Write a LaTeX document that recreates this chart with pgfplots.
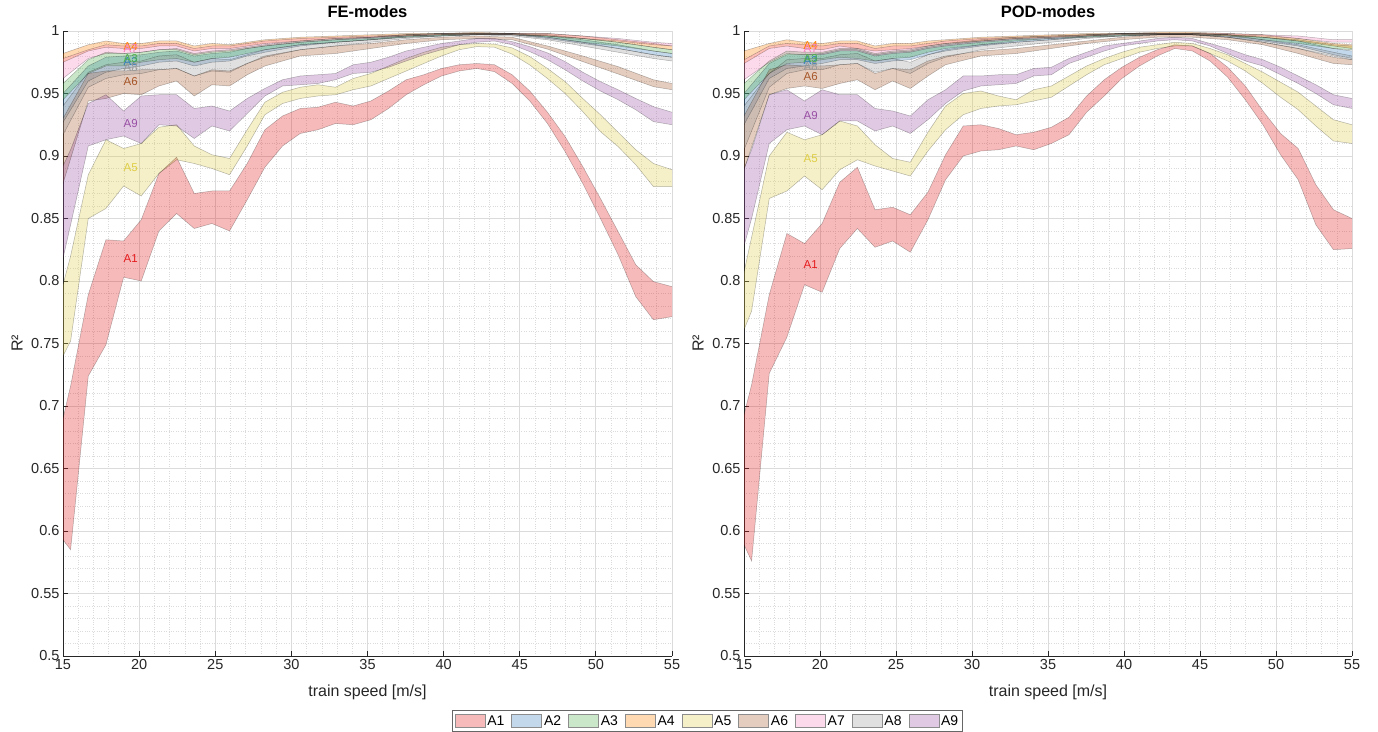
\documentclass[border=0pt]{standalone}
\usepackage{fontspec}
\setmainfont{Liberation Sans}
\usepackage{pgfplots}
\usepackage{pgfplotstable}
\pgfplotsset{compat=1.18}
\usepgfplotslibrary{fillbetween}

\definecolor{c1}{RGB}{228,26,28}
\definecolor{c2}{RGB}{55,126,184}
\definecolor{c3}{RGB}{77,175,74}
\definecolor{c4}{RGB}{255,127,0}
\definecolor{c5}{RGB}{222,205,70}
\definecolor{c6}{RGB}{166,86,40}
\definecolor{c7}{RGB}{247,129,191}
\definecolor{c8}{RGB}{153,153,153}
\definecolor{c9}{RGB}{152,78,163}
\definecolor{axgray}{RGB}{38,38,38}

\pgfplotstableread{
x A1l A1u A5l A5u A9l A9u
15     0.593 0.690 0.740 0.797 0.818 0.892
15.5   0.585 0.716 0.752 0.820 0.845 0.905
16.66  0.724 0.789 0.850 0.885 0.908 0.942
17.82  0.749 0.833 0.858 0.913 0.913 0.949
18.98  0.803 0.832 0.876 0.906 0.916 0.936
20.14  0.800 0.849 0.868 0.910 0.910 0.948
21.3   0.840 0.886 0.886 0.923 0.925 0.949
22.46  0.854 0.899 0.897 0.925 0.924 0.949
23.62  0.842 0.870 0.894 0.908 0.914 0.938
24.78  0.846 0.872 0.890 0.901 0.924 0.940
25.94  0.840 0.872 0.885 0.898 0.920 0.936
27.1   0.865 0.894 0.908 0.921 0.934 0.946
28.26  0.891 0.921 0.933 0.943 0.948 0.954
29.42  0.908 0.932 0.942 0.951 0.956 0.961
30.58  0.918 0.938 0.946 0.955 0.957 0.964
31.74  0.921 0.939 0.948 0.957 0.958 0.965
32.9   0.926 0.943 0.949 0.955 0.961 0.966
34.06  0.925 0.940 0.953 0.962 0.966 0.973
35.22  0.929 0.944 0.956 0.966 0.967 0.975
36.38  0.938 0.952 0.962 0.972 0.971 0.979
37.54  0.949 0.961 0.968 0.978 0.976 0.984
38.7   0.957 0.965 0.974 0.983 0.981 0.987
39.86  0.964 0.970 0.980 0.987 0.985 0.990
41.02  0.968 0.973 0.985 0.989 0.989 0.992
42.18  0.970 0.974 0.9875 0.990 0.991 0.994
43.34  0.9675 0.973 0.987 0.9895 0.992 0.994
44.5   0.958 0.965 0.9815 0.9865 0.989 0.9915
45.66  0.944 0.952 0.9728 0.9795 0.9835 0.9875
46.82  0.926 0.935 0.962 0.970 0.977 0.9825
47.98  0.9035 0.9155 0.950 0.9595 0.969 0.9755
49.14  0.878 0.8915 0.9355 0.946 0.960 0.967
50.3   0.850 0.866 0.9195 0.933 0.952 0.9595
51.46  0.821 0.8395 0.9075 0.919 0.945 0.953
52.62  0.7875 0.813 0.893 0.905 0.937 0.946
53.78  0.769 0.7995 0.8755 0.894 0.9275 0.9395
55     0.7715 0.7955 0.8755 0.889 0.925 0.935
}\FEmain

\pgfplotstableread{
x A2l A2u A3l A3u A4l A4u A6l A6u A7l A7u A8l A8u
15     0.927 0.950 0.945 0.958 0.975 0.982 0.878 0.930 0.962 0.978 0.917 0.940
16.66  0.960 0.972 0.966 0.977 0.984 0.989 0.944 0.966 0.978 0.985 0.955 0.967
17.82  0.967 0.979 0.972 0.983 0.987 0.992 0.946 0.968 0.982 0.989 0.962 0.973
18.98  0.970 0.980 0.972 0.982 0.986 0.990 0.950 0.968 0.982 0.988 0.965 0.975
20.14  0.972 0.981 0.975 0.983 0.986 0.990 0.949 0.969 0.983 0.988 0.966 0.976
21.3   0.975 0.983 0.977 0.985 0.988 0.992 0.956 0.969 0.985 0.990 0.969 0.980
22.46  0.976 0.984 0.978 0.986 0.988 0.992 0.960 0.970 0.985 0.990 0.970 0.981
23.62  0.972 0.980 0.975 0.982 0.984 0.988 0.948 0.964 0.981 0.986 0.964 0.975
24.78  0.975 0.982 0.978 0.984 0.986 0.990 0.957 0.969 0.983 0.988 0.968 0.978
25.94  0.976 0.983 0.979 0.985 0.986 0.989 0.956 0.968 0.984 0.988 0.967 0.977
27.1   0.980 0.986 0.982 0.987 0.988 0.991 0.965 0.974 0.986 0.990 0.974 0.981
28.26  0.983 0.988 0.985 0.989 0.990 0.993 0.972 0.980 0.988 0.992 0.979 0.985
30.58  0.988 0.991 0.989 0.992 0.992 0.995 0.980 0.985 0.991 0.994 0.985 0.989
32.9   0.991 0.993 0.991 0.994 0.994 0.996 0.982 0.988 0.993 0.995 0.988 0.991
35.22  0.993 0.995 0.993 0.995 0.995 0.997 0.986 0.990 0.994 0.996 0.991 0.993
37.54  0.995 0.997 0.995 0.997 0.996 0.998 0.990 0.993 0.996 0.997 0.994 0.996
39.86  0.996 0.998 0.996 0.998 0.997 0.998 0.993 0.995 0.997 0.998 0.996 0.997
42.18  0.997 0.998 0.997 0.998 0.997 0.999 0.994 0.996 0.997 0.998 0.997 0.998
44.5   0.997 0.998 0.997 0.998 0.997 0.998 0.993 0.995 0.997 0.998 0.996 0.998
46.82  0.994 0.996 0.995 0.997 0.996 0.998 0.9855 0.988 0.996 0.998 0.993 0.995
49.14  0.990 0.993 0.991 0.994 0.994 0.996 0.9755 0.980 0.994 0.996 0.988 0.991
51.46  0.986 0.989 0.988 0.991 0.991 0.993 0.9656 0.9715 0.992 0.994 0.983 0.986
53.78  0.981 0.984 0.984 0.987 0.987 0.990 0.9555 0.961 0.989 0.991 0.978 0.981
55     0.979 0.982 0.982 0.985 0.985 0.988 0.953 0.958 0.988 0.990 0.976 0.979
}\FEtop

\pgfplotstableread{
x A1l A1u A5l A5u A9l A9u
15     0.589 0.693 0.761 0.807 0.828 0.890
15.5   0.576 0.717 0.776 0.835 0.850 0.905
16.66  0.726 0.789 0.866 0.900 0.910 0.949
17.82  0.755 0.838 0.872 0.919 0.921 0.953
18.98  0.797 0.830 0.884 0.913 0.924 0.944
20.14  0.791 0.846 0.873 0.917 0.917 0.953
21.3   0.826 0.879 0.889 0.928 0.928 0.949
22.46  0.842 0.891 0.897 0.924 0.928 0.949
23.62  0.827 0.857 0.892 0.909 0.920 0.938
24.78  0.832 0.859 0.888 0.898 0.924 0.936
25.94  0.823 0.853 0.884 0.895 0.918 0.932
27.1   0.849 0.871 0.904 0.919 0.929 0.945
28.26  0.881 0.901 0.921 0.940 0.942 0.953
29.42  0.900 0.924 0.933 0.950 0.952 0.964
30.58  0.904 0.925 0.938 0.952 0.956 0.964
31.74  0.905 0.922 0.940 0.948 0.957 0.965
32.9   0.908 0.917 0.941 0.945 0.958 0.965
34.06  0.905 0.919 0.944 0.953 0.964 0.970
35.22  0.910 0.923 0.947 0.956 0.965 0.971
36.38  0.917 0.931 0.956 0.964 0.974 0.978
37.54  0.935 0.948 0.965 0.972 0.979 0.983
38.7   0.948 0.961 0.973 0.978 0.984 0.988
39.86  0.962 0.971 0.978 0.983 0.988 0.990
41.02  0.972 0.979 0.983 0.987 0.990 0.992
42.18  0.980 0.985 0.986 0.989 0.992 0.994
43.34  0.986 0.989 0.988 0.991 0.993 0.995
44.5   0.984 0.988 0.988 0.990 0.992 0.994
45.66  0.976 0.982 0.982 0.986 0.988 0.990
46.82  0.963 0.971 0.976 0.981 0.982 0.986
47.98  0.945 0.956 0.968 0.974 0.976 0.981
49.14  0.925 0.936 0.958 0.967 0.972 0.977
50.3   0.901 0.918 0.947 0.959 0.965 0.971
51.46  0.881 0.906 0.937 0.951 0.958 0.964
52.62  0.845 0.877 0.924 0.940 0.950 0.957
53.78  0.825 0.857 0.912 0.929 0.941 0.949
55     0.826 0.850 0.910 0.925 0.938 0.946
}\PODmain

\pgfplotstableread{
x A2l A2u A3l A3u A4l A4u A6l A6u A7l A7u A8l A8u
15     0.925 0.950 0.945 0.958 0.974 0.984 0.889 0.932 0.961 0.977 0.905 0.940
16.66  0.962 0.974 0.966 0.976 0.986 0.990 0.949 0.969 0.975 0.988 0.955 0.966
17.82  0.970 0.981 0.974 0.984 0.988 0.993 0.954 0.973 0.982 0.990 0.966 0.977
18.98  0.972 0.981 0.975 0.983 0.986 0.991 0.956 0.972 0.981 0.989 0.969 0.978
20.14  0.974 0.982 0.977 0.983 0.985 0.990 0.954 0.972 0.981 0.988 0.969 0.978
21.3   0.977 0.985 0.979 0.986 0.988 0.992 0.958 0.973 0.984 0.990 0.973 0.981
22.46  0.977 0.985 0.978 0.986 0.986 0.992 0.961 0.974 0.984 0.990 0.974 0.982
23.62  0.974 0.981 0.976 0.982 0.984 0.988 0.953 0.966 0.980 0.986 0.967 0.976
24.78  0.976 0.983 0.978 0.984 0.985 0.990 0.960 0.970 0.982 0.988 0.970 0.978
25.94  0.977 0.984 0.979 0.985 0.986 0.990 0.954 0.969 0.983 0.988 0.966 0.975
27.1   0.981 0.987 0.983 0.988 0.988 0.992 0.964 0.976 0.986 0.990 0.974 0.981
28.26  0.984 0.989 0.986 0.990 0.990 0.993 0.973 0.980 0.988 0.992 0.979 0.985
30.58  0.988 0.992 0.989 0.993 0.992 0.995 0.980 0.984 0.991 0.994 0.985 0.989
32.9   0.991 0.994 0.992 0.995 0.994 0.996 0.982 0.986 0.993 0.995 0.988 0.991
35.22  0.993 0.995 0.994 0.996 0.995 0.997 0.986 0.989 0.994 0.996 0.991 0.993
37.54  0.995 0.997 0.995 0.997 0.996 0.998 0.990 0.992 0.996 0.997 0.994 0.996
39.86  0.996 0.998 0.996 0.998 0.997 0.998 0.993 0.995 0.997 0.998 0.996 0.998
42.18  0.997 0.998 0.997 0.998 0.997 0.999 0.995 0.997 0.997 0.998 0.997 0.998
44.5   0.997 0.998 0.997 0.998 0.997 0.999 0.995 0.997 0.997 0.998 0.997 0.998
46.82  0.995 0.997 0.996 0.997 0.996 0.998 0.993 0.995 0.997 0.998 0.995 0.997
49.14  0.992 0.995 0.993 0.995 0.995 0.997 0.989 0.991 0.996 0.997 0.991 0.993
51.46  0.988 0.992 0.990 0.993 0.992 0.994 0.982 0.986 0.994 0.996 0.986 0.989
53.78  0.981 0.986 0.986 0.989 0.988 0.990 0.974 0.979 0.991 0.993 0.980 0.983
55     0.978 0.984 0.985 0.988 0.986 0.989 0.973 0.977 0.991 0.993 0.977 0.980
}\PODtop

\newcommand{\band}[3]{%
  \addplot[name path=#2u, draw=black, draw opacity=0.28, line width=0.5pt, forget plot] table[x=x, y=#2u] {#1};
  \addplot[name path=#2l, draw=black, draw opacity=0.28, line width=0.5pt, forget plot] table[x=x, y=#2l] {#1};
  \addplot[fill=#3, fill opacity=0.3, draw=none, forget plot] fill between[of=#2u and #2l];
}
\newcommand{\lfont}{\fontsize{11.5}{12}\selectfont}
\newcommand{\lab}[4]{\node[text=#4, font=\lfont, inner sep=0pt] at (axis cs:#1,#2) {#3};}
\newcommand{\ptitle}[1]{\node[font=\bfseries\fontsize{16.5}{17}\selectfont, anchor=center, inner sep=0pt] at (axis description cs:0.5,1.0304) {#1};}

\pgfplotsset{
  base/.style={
    anchor=south west, height=625pt, scale only axis, clip mode=individual,
    xmin=15, xmax=55, ymin=0.5, ymax=1,
    xtick={15,20,25,30,35,40,45,50,55},
    ytick={0.5,0.55,0.6,0.65,0.7,0.75,0.8,0.85,0.9,0.95,1},
    minor x tick num=4, minor y tick num=4,
    grid=both,
    major grid style={black!14, line width=0.8pt},
    minor grid style={black!14, dotted, line width=0.6pt},
    axis x line*=bottom, axis y line*=left,
    axis line style={-, axgray, line width=0.8pt},
    tick align=inside, major tick length=5pt, minor tick length=0pt,
    tick style={axgray, line width=0.8pt},
    /pgf/number format/assume math mode=true,
    ticklabel style={font=\fontsize{14.5}{15}\selectfont, text=axgray},
    xlabel={train speed [m/s]}, ylabel={R²},
    xlabel style={at={(axis description cs:0.5,-0.058)}, anchor=center, font=\fontsize{16}{16}\selectfont, text=axgray},
    ylabel style={at={(axis description cs:-0.0755,0.5)}, anchor=center, font=\fontsize{16}{16}\selectfont, text=axgray},
  }
}

\begin{document}
\begin{tikzpicture}
\begin{axis}[base, at={(63pt,75pt)}, width=609pt,
  legend style={at={(axis description cs:1.0583,-0.0864)}, anchor=north,
    legend columns=9, draw=black!60, line width=0.8pt,
    font=\fontsize{14}{14}\selectfont, inner xsep=2pt, inner ysep=3pt,
    /tikz/every even column/.append style={column sep=5pt}},
  legend image code/.code={\draw[#1, draw=black!45, line width=0.6pt] (0pt,-6.5pt) rectangle (30pt,6.5pt);}]
\band{\FEmain}{A1}{c1}
\band{\FEtop}{A2}{c2}
\band{\FEtop}{A3}{c3}
\band{\FEtop}{A4}{c4}
\band{\FEmain}{A5}{c5}
\band{\FEtop}{A6}{c6}
\band{\FEtop}{A7}{c7}
\band{\FEtop}{A8}{c8}
\band{\FEmain}{A9}{c9}
\lab{19.45}{0.8181}{A1}{c1}
\lab{19.45}{0.9755}{A2}{c2}
\lab{19.45}{0.9776}{A3}{c3}
\lab{19.45}{0.9875}{A4}{c4}
\lab{19.45}{0.8907}{A5}{c5}
\lab{19.45}{0.9595}{A6}{c6}
\lab{19.45}{0.9857}{A7}{c7}
\lab{19.45}{0.9707}{A8}{c8}
\lab{19.45}{0.9256}{A9}{c9}
\ptitle{FE-modes}
\addlegendimage{fill=c1!30}\addlegendentry{A1}
\addlegendimage{fill=c2!30}\addlegendentry{A2}
\addlegendimage{fill=c3!30}\addlegendentry{A3}
\addlegendimage{fill=c4!30}\addlegendentry{A4}
\addlegendimage{fill=c5!30}\addlegendentry{A5}
\addlegendimage{fill=c6!30}\addlegendentry{A6}
\addlegendimage{fill=c7!30}\addlegendentry{A7}
\addlegendimage{fill=c8!30}\addlegendentry{A8}
\addlegendimage{fill=c9!30}\addlegendentry{A9}
\end{axis}
\begin{axis}[base, at={(744pt,75pt)}, width=608pt]
\band{\PODmain}{A1}{c1}
\band{\PODtop}{A2}{c2}
\band{\PODtop}{A3}{c3}
\band{\PODtop}{A4}{c4}
\band{\PODmain}{A5}{c5}
\band{\PODtop}{A6}{c6}
\band{\PODtop}{A7}{c7}
\band{\PODtop}{A8}{c8}
\band{\PODmain}{A9}{c9}
\lab{19.39}{0.8128}{A1}{c1}
\lab{19.39}{0.9765}{A2}{c2}
\lab{19.39}{0.9780}{A3}{c3}
\lab{19.39}{0.9880}{A4}{c4}
\lab{19.39}{0.8976}{A5}{c5}
\lab{19.39}{0.9635}{A6}{c6}
\lab{19.39}{0.9860}{A7}{c7}
\lab{19.39}{0.9715}{A8}{c8}
\lab{19.39}{0.9320}{A9}{c9}
\ptitle{POD-modes}
\end{axis}
\pgfresetboundingbox
\useasboundingbox (0,0) rectangle (1378pt,731pt);
\end{tikzpicture}
\end{document}
